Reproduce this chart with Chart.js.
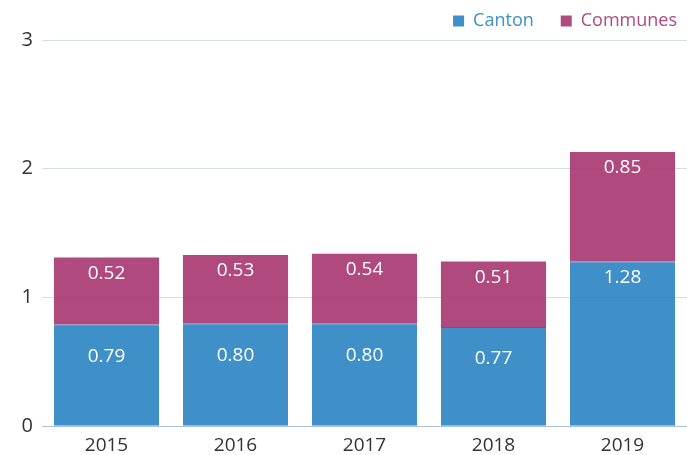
<!DOCTYPE html>
<html>
<head>
<meta charset="utf-8">
<script src="https://cdn.jsdelivr.net/npm/chart.js@4"></script>
<style>
  html, body { margin: 0; padding: 0; background: #fff; }
  #wrap { width: 687px; height: 455px; }
</style>
</head>
<body>
<div id="wrap"><canvas id="chart"></canvas></div>
<script>
// Chart data
const years = ['2015', '2016', '2017', '2018', '2019'];
const cantonValues = [0.79, 0.80, 0.80, 0.77, 1.28];
const communesValues = [0.52, 0.53, 0.54, 0.51, 0.85];
const yTicks = [0, 1, 2, 3];

const BLUE = 'rgba(47, 133, 195, 0.92)';
const MAGENTA = 'rgba(169, 58, 115, 0.92)';
const FONT = '"Open Sans", "Noto Sans", sans-serif';

// Value labels inside the bars
const barLabels = {
    id: 'barLabels',
    afterDatasetsDraw(chart) {
        const ctx = chart.ctx;
        ctx.save();
        ctx.fillStyle = '#ffffff';
        ctx.font = '19px ' + FONT;
        ctx.textAlign = 'center';
        ctx.textBaseline = 'middle';
        chart.data.datasets.forEach(function(ds, di) {
            chart.getDatasetMeta(di).data.forEach(function(bar, i) {
                const h = bar.base - bar.y;
                let off = 16;
                if (di === 0 && h < 120) off = 32;
                ctx.fillText(ds.data[i].toFixed(2), bar.x, bar.y + off);
            });
        });
        ctx.restore();
    }
};

// Nudge the legend: wide gap between items, close to the top right corner
const legendNudge = {
    id: 'legendNudge',
    afterLayout(chart) {
        if (chart.legend) {
            chart.legend.top -= 15;
            chart.legend.right += 17;
        }
    }
};

new Chart(document.getElementById('chart'), {
    type: 'bar',
    data: {
        labels: years,
        datasets: [{
            label: 'Canton',
            data: cantonValues,
            backgroundColor: BLUE,
            borderColor: '#2f6fae',
            borderWidth: { top: 1 },
            borderSkipped: false,
            barPercentage: 0.815,
            categoryPercentage: 1
        }, {
            label: 'Communes',
            data: communesValues,
            backgroundColor: MAGENTA,
            borderWidth: 0,
            barPercentage: 0.815,
            categoryPercentage: 1
        }]
    },
    options: {
        responsive: true,
        maintainAspectRatio: false,
        animation: false,
        layout: { padding: { top: 0, right: 0, bottom: -2, left: 0 } },
        plugins: {
            tooltip: { enabled: false },
            legend: {
                position: 'top',
                align: 'end',
                maxHeight: 40,
                labels: {
                    font: { family: FONT, size: 18 },
                    boxWidth: 11,
                    boxHeight: 11,
                    padding: 27,
                    generateLabels(chart) {
                        return chart.data.datasets.map(function(ds, i) {
                            return {
                                text: ds.label,
                                fillStyle: ds.backgroundColor,
                                strokeStyle: ds.backgroundColor,
                                lineWidth: 0,
                                fontColor: ds.backgroundColor,
                                datasetIndex: i
                            };
                        });
                    }
                }
            }
        },
        scales: {
            x: {
                stacked: true,
                grid: { display: false },
                border: { color: '#a9c3df', width: 1 },
                ticks: { color: '#333', font: { family: FONT, size: 19 }, padding: 0 }
            },
            y: {
                stacked: true,
                min: 0,
                max: 3,
                afterBuildTicks(scale) {
                    scale.ticks = yTicks.map(function(v) { return { value: v }; });
                },
                afterFit(scale) { scale.width = 42; },
                grid: { color: '#d3dde8', drawTicks: false },
                border: { display: false },
                ticks: { color: '#333', font: { family: FONT, size: 20 }, padding: 9 }
            }
        }
    },
    plugins: [barLabels, legendNudge]
});
</script>
</body>
</html>
